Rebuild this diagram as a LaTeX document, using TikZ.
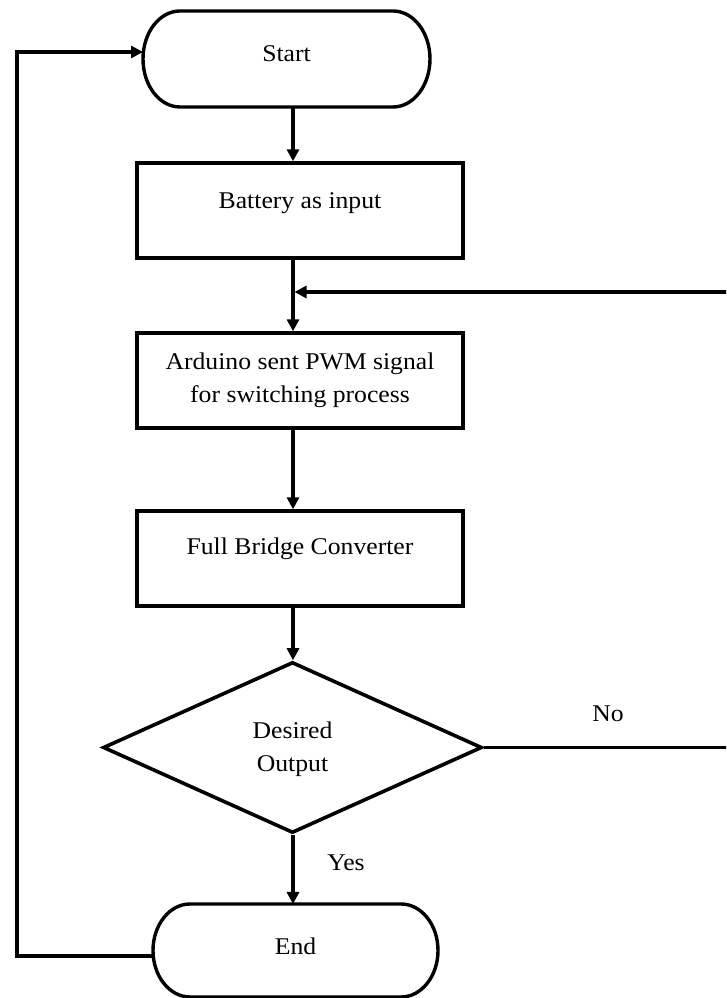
\documentclass[tikz,border=0pt]{standalone}
\usepackage{fontspec}
\setmainfont{Liberation Serif}[FakeStretch=1.07]
\usetikzlibrary{arrows.meta,shapes.geometric}
\newcommand\diagfont{\fontsize{24}{33}\selectfont}
\newcommand\termline[3]{%
  \draw[line] ([xshift=#2]#1.north west) -- ([xshift=-#2]#1.north east)
    arc[start angle=90,end angle=-90,x radius=#2,y radius=#3]
    -- ([xshift=#2]#1.south west)
    arc[start angle=270,end angle=90,x radius=#2,y radius=#3] -- cycle;}
\begin{document}
\begin{tikzpicture}[x=1pt,y=1pt,
  line/.style={line width=3.4pt},
  arr/.style={line,-{Triangle[length=12pt,width=12pt]}},
  box/.style={draw,line width=3.4pt,minimum width=326pt,minimum height=95pt,inner sep=0pt,font=\diagfont,align=center},
  term/.style={inner sep=0pt,outer sep=0pt,font=\diagfont},
  decision/.style={draw,diamond,line width=3.6pt,minimum width=379pt,minimum height=171pt,inner sep=0pt,shape aspect=2.2,font=\diagfont,align=center},
  lbl/.style={font=\diagfont,inner sep=0pt}
]
\path[use as bounding box,clip] (0,0) rectangle (726,998);
\fill[white] (0,0) rectangle (726,998);

% nodes
\node[term,minimum width=287pt,minimum height=96pt,text height=17pt,text depth=11pt] (start) at (286.5,939) {Start};
\node[box,text height=17pt,text depth=21pt] (bat) at (300,787.5) {Battery as input};
\node[box] (ard) at (300,617.5) {Arduino sent PWM signal\\for switching process};
\node[box,text height=17pt,text depth=25pt] (fb) at (300,439.5) {Full Bridge Converter};
\node[decision] (dec) at (292.5,250.5) {\raisebox{-7pt}[0pt][0pt]{\begin{tabular}{@{}c@{}}Desired\\Output\end{tabular}}};
\node[term,minimum width=285pt,minimum height=93pt,text height=17pt,text depth=9pt] (end) at (295.5,47.5) {End};

\termline{start}{37pt}{48pt}
\termline{end}{37pt}{46.5pt}

% labels
\node[lbl] (no) at (608,284) {No};
\node[lbl] (yes) at (346,135) {Yes};

% helper coordinates
\coordinate (cx) at (293,0);
\coordinate (lx) at (17,0);
\coordinate (rx) at (760,0);
\coordinate (merge) at (294.5,706);
\coordinate (endout) at ([yshift=-5.5pt]end.west);
\coordinate (startin) at ([yshift=7pt]start.west);

% connectors
\draw[arr] (start.south -| cx) -- (bat.north -| cx);
\draw[arr] (bat.south -| cx) -- (ard.north -| cx);
\draw[arr] (ard.south -| cx) -- (fb.north -| cx);
\draw[arr] (fb.south -| cx) -- (dec.north -| cx);
\draw[arr] (dec.south -| cx) -- (end.north -| cx);
\draw[arr] (endout) -- (endout -| lx) |- (startin);
\draw[arr] (dec.east) -- (dec.east -| rx) |- (merge);
\end{tikzpicture}
\end{document}
